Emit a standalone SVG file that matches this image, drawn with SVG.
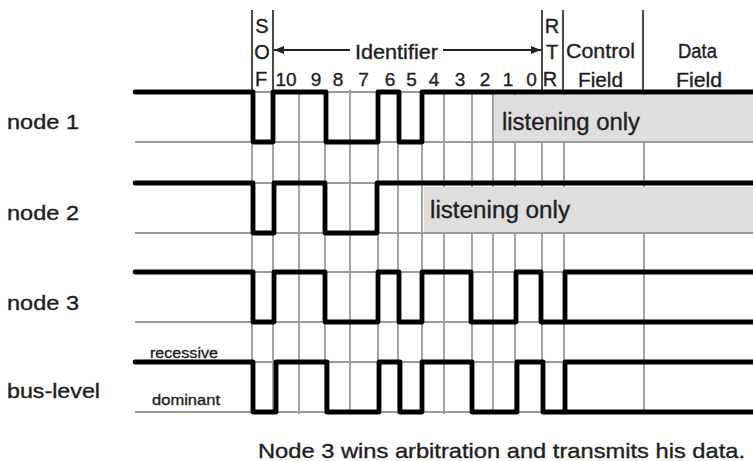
<svg xmlns="http://www.w3.org/2000/svg" width="753" height="461" viewBox="0 0 753 461">
  <defs>
    <style>
      .txt { font-family: "Liberation Sans", Arial, sans-serif; fill: #1e1e1e; stroke: #1e1e1e; stroke-width: 0.35; }
      .hdr { font-size: 20px; }
      .dig { font-size: 19px; text-anchor: middle; }
      .row { font-size: 20px; }
      .lvl { font-size: 15px; }
      .listen { font-size: 23px; }
      .sig { fill: none; stroke: #000; stroke-width: 4.8; stroke-linejoin: round; stroke-linecap: round; }
      .ref { stroke: #9a9a9a; stroke-width: 1.8; }
      .grid { stroke: #9a9a9a; stroke-width: 1.8; }
      .hline { stroke: #4a4a4a; stroke-width: 2; }
      .box { fill: #dedede; }
    </style>
    <marker id="arrowL" viewBox="0 0 10 8" refX="0" refY="4" markerWidth="10" markerHeight="8" markerUnits="userSpaceOnUse" orient="auto">
      <path d="M10,0 L0,4 L10,8 Z" fill="#222"/>
    </marker>
    <marker id="arrowR" viewBox="0 0 10 8" refX="10" refY="4" markerWidth="10" markerHeight="8" markerUnits="userSpaceOnUse" orient="auto">
      <path d="M0,0 L10,4 L0,8 Z" fill="#222"/>
    </marker>
  </defs>

  <rect width="753" height="461" fill="#fff"/>

  <!-- field header: SOF / Identifier / RTR / Control / Data -->
  <g id="header">
    <line class="hline" x1="252" y1="10" x2="252" y2="92"/>
    <line class="hline" x1="273" y1="10" x2="273" y2="92"/>
    <line class="hline" x1="542" y1="10" x2="542" y2="92"/>
    <line class="hline" x1="563" y1="10" x2="563" y2="92"/>
    <line class="hline" x1="643" y1="10" x2="643" y2="92"/>

    <text class="txt hdr" x="262" y="33" text-anchor="middle">S</text>
    <text class="txt hdr" x="262" y="59" text-anchor="middle">O</text>
    <text class="txt hdr" x="261" y="86" text-anchor="middle">F</text>

    <text class="txt hdr" x="355" y="59" textLength="83" lengthAdjust="spacingAndGlyphs">Identifier</text>

    <text class="txt hdr" x="552" y="33" text-anchor="middle">R</text>
    <text class="txt hdr" x="552" y="59" text-anchor="middle">T</text>
    <text class="txt hdr" x="550" y="86" text-anchor="middle">R</text>

    <text class="txt hdr" x="566" y="58" textLength="69" lengthAdjust="spacingAndGlyphs">Control</text>
    <text class="txt hdr" x="578" y="87" textLength="45" lengthAdjust="spacingAndGlyphs">Field</text>
    <text class="txt hdr" x="678" y="58" textLength="39" lengthAdjust="spacingAndGlyphs">Data</text>
    <text class="txt hdr" x="676" y="87" textLength="46" lengthAdjust="spacingAndGlyphs">Field</text>

    <text class="txt dig" x="286" y="86">10</text>
    <text class="txt dig" x="316" y="86">9</text>
    <text class="txt dig" x="338" y="86">8</text>
    <text class="txt dig" x="363.5" y="86">7</text>
    <text class="txt dig" x="390" y="86">6</text>
    <text class="txt dig" x="411.5" y="86">5</text>
    <text class="txt dig" x="434" y="86">4</text>
    <text class="txt dig" x="460" y="86">3</text>
    <text class="txt dig" x="485" y="86">2</text>
    <text class="txt dig" x="508" y="86">1</text>
    <text class="txt dig" x="531.5" y="86">0</text>
  </g>

  <!-- Identifier span arrow -->
  <g id="connectors">
    <line x1="274" y1="50" x2="350" y2="50" stroke="#222" stroke-width="2" marker-start="url(#arrowL)"/>
    <line x1="443" y1="50" x2="541" y2="50" stroke="#222" stroke-width="2" marker-end="url(#arrowR)"/>
  </g>

  <!-- bit-time grid -->
  <g id="grid">
    <line class="grid" x1="252" y1="90" x2="252" y2="414"/>
    <line class="grid" x1="273" y1="90" x2="273" y2="414"/>
    <line class="grid" x1="299" y1="90" x2="299" y2="414"/>
    <line class="grid" x1="325" y1="90" x2="325" y2="414"/>
    <line class="grid" x1="350" y1="90" x2="350" y2="414"/>
    <line class="grid" x1="378" y1="90" x2="378" y2="414"/>
    <line class="grid" x1="398" y1="90" x2="398" y2="414"/>
    <line class="grid" x1="422" y1="90" x2="422" y2="414"/>
    <line class="grid" x1="444" y1="90" x2="444" y2="414"/>
    <line class="grid" x1="472" y1="90" x2="472" y2="414"/>
    <line class="grid" x1="493" y1="90" x2="493" y2="414"/>
    <line class="grid" x1="515" y1="90" x2="515" y2="414"/>
    <line class="grid" x1="542" y1="90" x2="542" y2="414"/>
    <line class="grid" x1="564" y1="90" x2="564" y2="414"/>
    <line class="grid" x1="644" y1="90" x2="644" y2="414"/>

    <line class="ref" x1="135" y1="92" x2="753" y2="92"/>
    <line class="ref" x1="135" y1="142" x2="753" y2="142"/>
    <line class="ref" x1="135" y1="183" x2="753" y2="183"/>
    <line class="ref" x1="135" y1="233" x2="753" y2="233"/>
    <line class="ref" x1="135" y1="272" x2="753" y2="272"/>
    <line class="ref" x1="135" y1="322" x2="753" y2="322"/>
    <line class="ref" x1="135" y1="362" x2="753" y2="362"/>
    <line class="ref" x1="135" y1="412" x2="753" y2="412"/>
  </g>

  <g id="node1">
    <text class="txt row" x="7" y="129" textLength="72" lengthAdjust="spacingAndGlyphs">node 1</text>
    <rect class="box" x="494" y="95" width="259" height="46"/>
    <text class="txt listen" x="502" y="130" textLength="138" lengthAdjust="spacingAndGlyphs">listening only</text>
    <path class="sig" d="M135,92 H253 V142 H273 V92 H326 V142 H378 V92 H399 V142 H422 V92 H753"/>
  </g>

  <g id="node2">
    <text class="txt row" x="7" y="220" textLength="72" lengthAdjust="spacingAndGlyphs">node 2</text>
    <rect class="box" x="424" y="187" width="329" height="45"/>
    <text class="txt listen" x="430" y="218" textLength="140" lengthAdjust="spacingAndGlyphs">listening only</text>
    <path class="sig" d="M135,183 H253 V233 H274 V183 H325 V233 H377 V183 H753"/>
  </g>

  <g id="node3">
    <text class="txt row" x="7" y="310" textLength="72" lengthAdjust="spacingAndGlyphs">node 3</text>
    <path class="sig" d="M135,272 H253 V322 H274 V272 H325 V322 H378 V272 H399 V322 H422 V272 H471 V322 H516 V272 H541 V322 H753"/>
    <path class="sig" d="M565,322 V272 H753"/>
  </g>

  <g id="bus">
    <text class="txt row" x="7" y="398" textLength="93" lengthAdjust="spacingAndGlyphs">bus-level</text>
    <text class="txt lvl" x="150" y="358" textLength="68" lengthAdjust="spacingAndGlyphs">recessive</text>
    <text class="txt lvl" x="152" y="405" textLength="68" lengthAdjust="spacingAndGlyphs">dominant</text>
    <path class="sig" d="M135,362 H253 V412 H276 V362 H327 V412 H379 V362 H400 V412 H422 V362 H472 V412 H517 V362 H543 V412 H753"/>
    <path class="sig" d="M565,412 V362 H753"/>
  </g>

  <text class="txt" x="258" y="458" font-size="21" textLength="487" lengthAdjust="spacingAndGlyphs">Node 3 wins arbitration and transmits his data.</text>
</svg>
